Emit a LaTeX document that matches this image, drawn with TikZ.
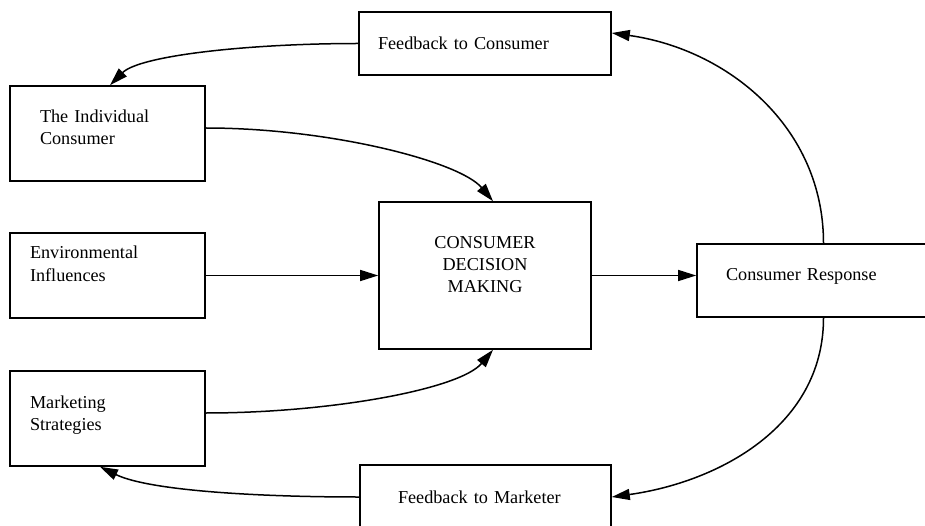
\documentclass[tikz,border=0pt]{standalone}
\usepackage{fontspec}
\setmainfont{Liberation Serif}
\usetikzlibrary{arrows.meta}

\begin{document}
\begin{tikzpicture}[
    x=1pt, y=-1pt,
    box/.style={draw, line width=1.6pt, inner ysep=0pt, align=left,
                font=\fontsize{18.2pt}{22pt}\selectfont},
    sidebox/.style={box, minimum width=195pt, text width=195pt-2*#1,
                    inner xsep=#1},
    flow/.style={line width=1.5pt, -{Triangle[length=18pt,width=11pt]}},
]
\useasboundingbox (0,0) rectangle (925,526);
\clip (0,0) rectangle (925,526);
% left column
\node[sidebox=30pt, minimum height=95pt, text height=0pt, text depth=21pt]
  (IC) at (107.5,133.5) {The Individual\\Consumer};
\node[sidebox=20pt, minimum height=85pt, text height=0pt, text depth=33pt]
  (EI) at (107.5,275.5) {Environmental\\Influences};
\node[sidebox=20pt, minimum height=95pt, text height=0pt, text depth=21pt]
  (MS) at (107.5,418.5) {Marketing\\Strategies};
% middle column
\node[box, minimum width=252pt, minimum height=63pt, inner xsep=19pt,
      text width=214pt] (FC) at (485,43.5) {Feedback to Consumer};
\node[box, align=center, minimum width=212pt, minimum height=147pt,
      text width=200pt, text height=0pt, text depth=53pt]
  (CDM) at (485,275.5) {CONSUMER\\DECISION\\MAKING};
\node[box, minimum width=251pt, minimum height=64pt, inner xsep=38pt,
      text width=175pt] (FM) at (485.5,497) {Feedback to Marketer};
% right column
\node[box, minimum width=253pt, minimum height=73pt, inner xsep=29pt,
      text width=195pt, text height=0pt, text depth=1pt]
  (CR) at (823.5,280.5) {Consumer Response};
% connectors
\draw[flow] (FC.west) to[out=180, in=45, out looseness=1.1, in looseness=0.43]
  ([xshift=2.5pt]IC.north);
\draw[flow] ([yshift=5.5pt]IC.east) to[out=0, in=130, out looseness=1.07,
  in looseness=0.45] ([xshift=8pt]CDM.north);
\draw[flow] (EI.east) -- (CDM.west);
\draw[flow] ([yshift=5.5pt]MS.east) to[out=0, in=-130, out looseness=1.07,
  in looseness=0.45] ([xshift=8pt]CDM.south);
\draw[flow] (CDM.east) -- (CDM.east -| CR.west);
\draw[flow] (CR.north) to[out=90, in=-8] ([yshift=10.5pt]FC.east);
\draw[flow] (CR.south) to[out=-90, in=8] (FM.east);
\draw[flow] (FM.west) to[out=180, in=-26, out looseness=0.97, in looseness=0.54]
  ([xshift=-7.5pt]MS.south);
\end{tikzpicture}
\end{document}
